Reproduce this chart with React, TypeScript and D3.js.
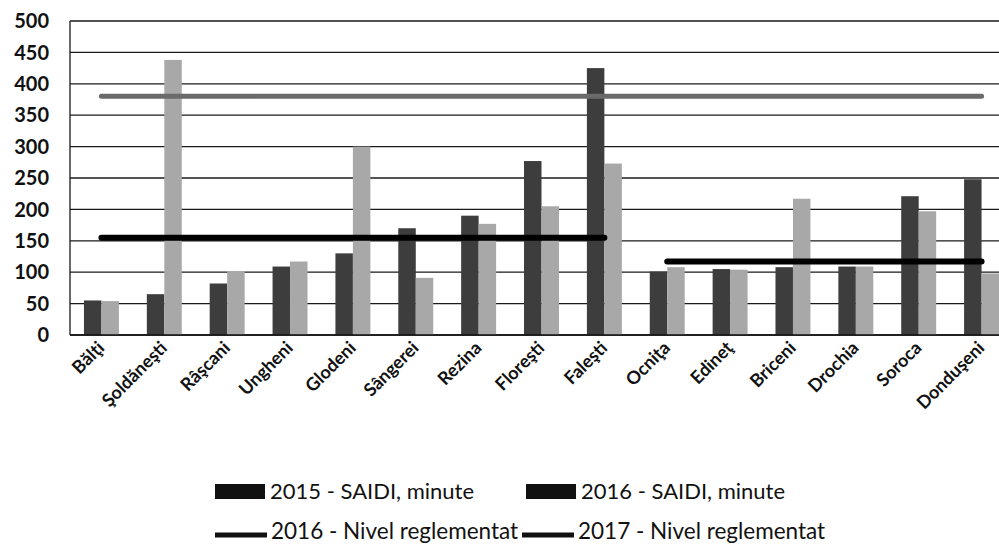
import React from "react";
import * as d3 from "d3";

const categories = [
  "Bălţi", "Şoldăneşti", "Râşcani", "Ungheni", "Glodeni", "Sângerei", "Rezina",
  "Floreşti", "Faleşti", "Ocniţa", "Edineţ", "Briceni", "Drochia", "Soroca", "Donduşeni",
];
const saidi2015 = [55, 65, 82, 109, 130, 170, 190, 277, 425, 101, 105, 108, 109, 221, 248];
const saidi2016 = [54, 438, 102, 117, 300, 91, 177, 205, 273, 108, 104, 217, 109, 197, 98];
const nivel2016 = [380, 380, 380, 380, 380, 380, 380, 380, 380, 380, 380, 380, 380, 380, 380];
const nivel2017: (number | null)[] = [155, 155, 155, 155, 155, 155, 155, 155, 155, 117, 117, 117, 117, 117, 117];
const nivel2017Break = 9; // no segment drawn between Faleşti and Ocniţa
const yTicks = [0, 50, 100, 150, 200, 250, 300, 350, 400, 450, 500];
const legendBars = ["2015 - SAIDI, minute", "2016 - SAIDI, minute"];
const legendLines = ["2016 - Nivel reglementat", "2017 - Nivel reglementat"];

const W = 999;
const H = 544;
const left = 70;
const right = 1013;
const top = 21;
const bottom = 335;
const FONT = "Lato, 'Open Sans', sans-serif";

export default function App() {
  const x = d3.scaleBand<string>().domain(categories).range([left, right]).paddingInner(0.444).paddingOuter(0.222);
  const y = d3.scaleLinear().domain([0, 500]).range([bottom, top]);
  const bw = x.bandwidth() / 2;
  const cx = (c: string) => (x(c) as number) + x.bandwidth() / 2;

  const line = d3
    .line<number | null>()
    .defined((d) => d != null)
    .x((_, i) => cx(categories[i]))
    .y((d) => y(d as number));

  const seg1 = nivel2017.map((d, i) => (i < nivel2017Break ? d : null));
  const seg2 = nivel2017.map((d, i) => (i >= nivel2017Break ? d : null));

  return (
    <div style={{ position: "absolute", left: 0, top: 0 }}>
      <svg width={W} height={H} style={{ display: "block", background: "#fff" }}>
        {yTicks.map((t) => (
          <line key={"g" + t} x1={left} x2={W} y1={y(t)} y2={y(t)} stroke="#1a1a1a" strokeWidth={1.3} />
        ))}
        <line x1={left} x2={left} y1={top} y2={bottom} stroke="#1a1a1a" strokeWidth={1.3} />
        {yTicks.map((t) => (
          <text
            key={"t" + t}
            x={49}
            y={y(t)}
            dy="0.36em"
            textAnchor="end"
            fontFamily={FONT}
            fontWeight={700}
            fontSize={20}
            fill="#111"
          >
            {t}
          </text>
        ))}
        {categories.map((c, i) => (
          <g key={"b" + c}>
            <rect x={x(c)} y={y(saidi2015[i])} width={bw} height={bottom - y(saidi2015[i])} fill="#3d3d3d" />
            <rect x={(x(c) as number) + bw} y={y(saidi2016[i])} width={bw} height={bottom - y(saidi2016[i])} fill="#a8a8a8" />
          </g>
        ))}
        <line x1={left} x2={W} y1={bottom} y2={bottom} stroke="#111" strokeWidth={1.6} />
        <path d={line(nivel2016) || ""} fill="none" stroke="#6a6a6a" strokeWidth={5} strokeLinecap="round" />
        <path d={line(seg1) || ""} fill="none" stroke="#000" strokeWidth={6} strokeLinecap="round" />
        <path d={line(seg2) || ""} fill="none" stroke="#000" strokeWidth={6} strokeLinecap="round" />
        {categories.map((c) => (
          <text
            key={"c" + c}
            transform={`translate(${cx(c) + 4},${bottom + 14}) rotate(-45)`}
            textAnchor="end"
            fontFamily={FONT}
            fontWeight={700}
            fontSize={18}
            fill="#111"
          >
            {c}
          </text>
        ))}
        {legendBars.map((l, i) => (
          <g key={"lb" + l} transform={`translate(${215 + i * 311},0)`}>
            <rect x={0} y={484} width={50} height={15} fill="#111" />
            <text x={55} y={499} fontFamily={FONT} fontSize={22} fill="#111">
              {l}
            </text>
          </g>
        ))}
        {legendLines.map((l, i) => (
          <g key={"ll" + l} transform={`translate(${215 + i * 307},0)`}>
            <line x1={0} x2={52} y1={535} y2={535} stroke="#111" strokeWidth={5} />
            <text x={56} y={539} fontFamily={FONT} fontSize={22.5} fill="#111">
              {l}
            </text>
          </g>
        ))}
      </svg>
    </div>
  );
}
